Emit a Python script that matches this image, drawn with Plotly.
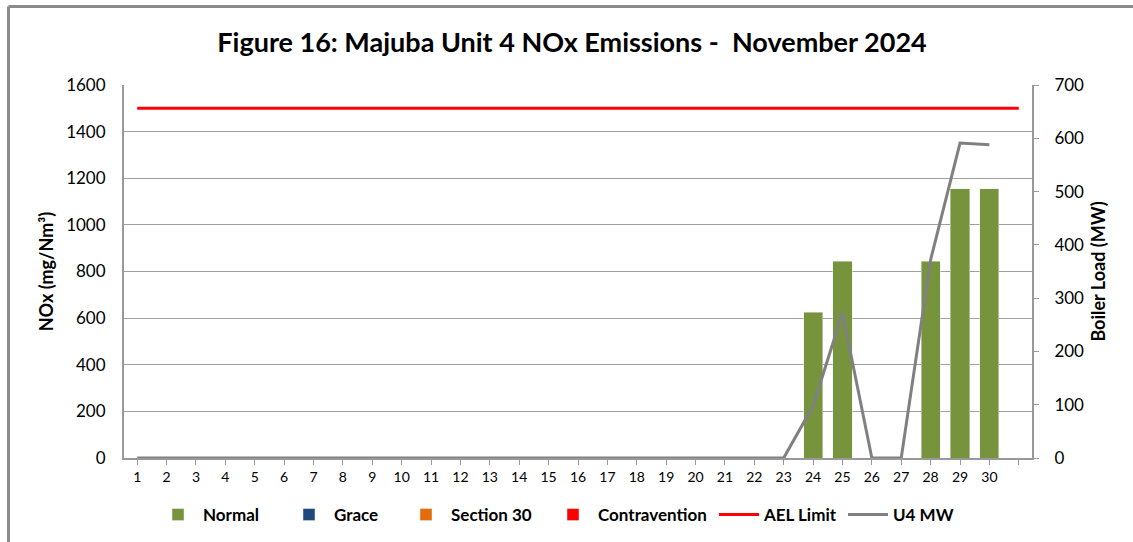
import plotly.graph_objects as go

# ---- data ----
days = list(range(1, 31))
tick_labels = [str(d) for d in days] + [""]
normal = [None] * 23 + [625, 845, None, None, 845, 1155, 1155]
grace = [None] * 30
section30 = [None] * 30
contravention = [None] * 30
ael_days = list(range(1, 32))
ael_limit = [1500] * 31
u4_mw = [0] * 23 + [98, 272, 0, 0, 372, 591, 588]

FONT = "Lato"
W, H = 1133, 542
L, R, T, B = 124, 1032, 85, 458
pw, ph = R - L, B - T


def px(x):
    return (x - L) / pw


def py(y):
    return (B - y) / ph


# legend text start positions in the reference (pixels)
legend_text_x = [205, 336, 453, 600, 766, 895]
LEG_OFF = 52  # offset from legend box left edge to text start

fig = go.Figure()
fig.add_trace(go.Bar(x=days, y=normal, name="Normal", marker_color="#77933C", width=0.65, legend="legend"))
fig.add_trace(go.Bar(x=days, y=grace, name="Grace", marker_color="#1F497D", width=0.65, legend="legend2"))
fig.add_trace(go.Bar(x=days, y=section30, name="Section 30", marker_color="#E46C0A", width=0.65, legend="legend3"))
fig.add_trace(go.Bar(x=days, y=contravention, name="Contravention", marker_color="#FF0000", width=0.65,
                     legend="legend4"))
fig.add_trace(go.Scatter(x=ael_days, y=ael_limit, name="AEL Limit", mode="lines",
                         line=dict(color="#FF0000", width=3), legend="legend5"))
fig.add_trace(go.Scatter(x=days, y=u4_mw, name="U4 MW", mode="lines", yaxis="y2",
                         line=dict(color="#808080", width=3), legend="legend6"))

legends = {}
for i, tx in enumerate(legend_text_x):
    key = "legend" if i == 0 else f"legend{i + 1}"
    legends[key] = dict(orientation="h", x=(tx - LEG_OFF) / W, xref="container", xanchor="left",
                        y=1 - 515 / H, yref="container", yanchor="middle",
                        font=dict(size=17, family=FONT, weight="bold"), itemwidth=40,
                        bgcolor="rgba(0,0,0,0)")

fig.update_layout(
    width=W, height=H,
    margin=dict(l=L, r=W - R, t=T, b=H - B, autoexpand=False),
    paper_bgcolor="white", plot_bgcolor="white",
    barmode="stack",
    font=dict(family=FONT, color="#000000"),
    title=dict(text="<b>Figure 16: Majuba Unit 4 NOx Emissions -  November 2024</b>",
               x=572 / W, xref="container", xanchor="center",
               y=1 - 43 / H, yref="container", yanchor="middle",
               font=dict(size=27, family=FONT, color="#000000")),
    xaxis=dict(range=[0.55, 31.45], tickmode="array", tickvals=ael_days, ticktext=tick_labels,
               ticks="outside", ticklen=5, tickcolor="#999999", showline=True, linecolor="#999999",
               linewidth=2, showgrid=False, zeroline=False, tickfont=dict(size=14, family=FONT),
               automargin=False),
    yaxis=dict(range=[0, 1600], dtick=200, showgrid=True, gridcolor="#A0A0A0", gridwidth=1,
               showline=True, linecolor="#999999", linewidth=2, zeroline=False,
               tickfont=dict(size=17, family=FONT), ticks="", ticklabelstandoff=13, automargin=False,
               title=dict(text="<b>NOx (mg/Nm³)</b>", font=dict(size=18, family=FONT), standoff=8)),
    yaxis2=dict(range=[0, 700], dtick=100, overlaying="y", side="right", showgrid=False,
                showline=True, linecolor="#999999", linewidth=2, zeroline=False,
                ticks="outside", ticklen=5, tickcolor="#999999", ticklabelstandoff=12, automargin=False,
                tickfont=dict(size=17, family=FONT),
                title=dict(text="<b>Boiler Load (MW)</b>", font=dict(size=18, family=FONT), standoff=9)),
    showlegend=True,
    **legends,
)

# outer chart frame (left and top edges visible in the reference)
fig.add_shape(type="line", xref="paper", yref="paper", x0=px(8.5), x1=px(8.5), y0=py(545), y1=py(6.5),
              line=dict(color="#8C8C8C", width=3))
fig.add_shape(type="line", xref="paper", yref="paper", x0=px(8.5), x1=px(1140), y0=py(6.5), y1=py(6.5),
              line=dict(color="#8C8C8C", width=3))

fig.write_html("out.html", config={"displayModeBar": False},
               post_script="document.body.style.margin='0';")
